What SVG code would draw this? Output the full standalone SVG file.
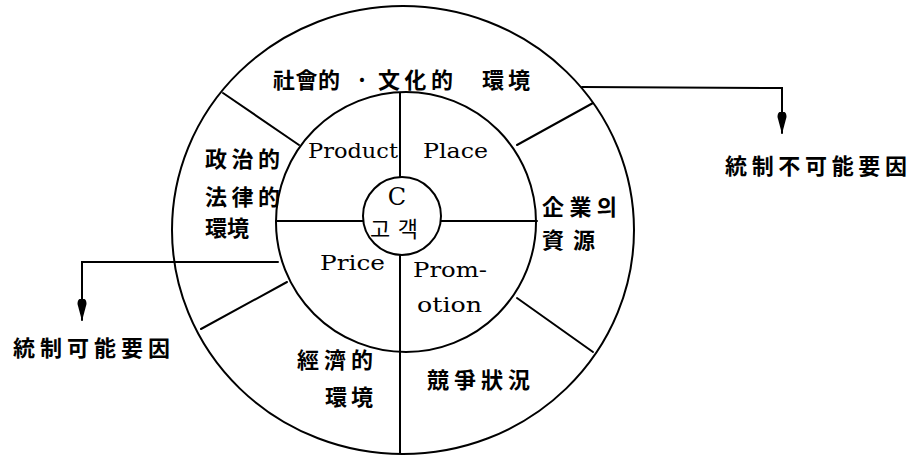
<svg xmlns="http://www.w3.org/2000/svg" width="919" height="457" viewBox="0 0 919 457">
<style>
.ln{fill:none;stroke:#000;stroke-width:2;stroke-linecap:round}
.cj{font-family:"Noto Sans CJK KR","Noto Sans CJK TC",sans-serif;font-weight:bold;font-size:22px;fill:#000}
.lt{font-family:"DejaVu Serif","Liberation Serif",serif;font-size:21px;fill:#000}
</style>
<defs>
<marker id="arr" viewBox="0 0 22 10" refX="21" refY="5" markerWidth="22" markerHeight="10" markerUnits="userSpaceOnUse" orient="auto">
<path d="M0,2.5 Q1,0.5 5,0.5 L22,5 L5,9.5 Q1,9.5 0,7.5 Z" fill="#000"/>
</marker>
</defs>
<rect width="919" height="457" fill="#fff"/>
<g id="wheel">
<ellipse class="ln" cx="403" cy="230" rx="231" ry="224"/>
<circle class="ln" cx="406" cy="222" r="130"/>
<circle class="ln" cx="402" cy="216" r="39"/>
<line class="ln" x1="400" y1="93" x2="400" y2="177"/>
<line class="ln" x1="400" y1="255" x2="400" y2="453"/>
<line class="ln" x1="276" y1="221" x2="363" y2="221"/>
<line class="ln" x1="441" y1="221" x2="537" y2="221"/>
<line class="ln" x1="223" y1="93" x2="299" y2="145"/>
<line class="ln" x1="593" y1="103" x2="517" y2="145"/>
<line class="ln" x1="201" y1="329" x2="287" y2="282"/>
<line class="ln" x1="593" y1="352" x2="517" y2="298"/>
</g>
<g id="social">
<text class="cj" x="273" y="88" textLength="67" lengthAdjust="spacing">社會的</text>
<text class="cj" x="362" y="88" text-anchor="middle">·</text>
<text class="cj" x="378" y="88" textLength="75" lengthAdjust="spacing">文化的</text>
<text class="cj" x="482" y="88" textLength="48" lengthAdjust="spacing">環境</text>
</g>
<g id="political">
<text class="cj" x="205" y="167" textLength="75" lengthAdjust="spacing">政治的</text>
<text class="cj" x="205" y="205" textLength="75" lengthAdjust="spacing">法律的</text>
<text class="cj" x="205" y="236" textLength="44" lengthAdjust="spacing">環境</text>
</g>
<g id="enterprise">
<text class="cj" x="542" y="215" textLength="75" lengthAdjust="spacing">企業의</text>
<text class="cj" x="542" y="248" textLength="53" lengthAdjust="spacing">資源</text>
</g>
<g id="economic">
<text class="cj" x="297" y="368" textLength="76" lengthAdjust="spacing">經濟的</text>
<text class="cj" x="325" y="405" textLength="48" lengthAdjust="spacing">環境</text>
</g>
<g id="competition">
<text class="cj" x="427" y="388" textLength="103" lengthAdjust="spacing">競爭狀況</text>
</g>
<g id="product"><text class="lt" x="308" y="158" textLength="90" lengthAdjust="spacingAndGlyphs">Product</text></g>
<g id="place"><text class="lt" x="423" y="158" textLength="65" lengthAdjust="spacingAndGlyphs">Place</text></g>
<g id="price"><text class="lt" x="320" y="270" textLength="65" lengthAdjust="spacingAndGlyphs">Price</text></g>
<g id="promotion">
<text class="lt" x="413" y="277" textLength="74" lengthAdjust="spacingAndGlyphs">Prom-</text>
<text class="lt" x="417" y="312" textLength="65" lengthAdjust="spacingAndGlyphs">otion</text>
</g>
<g id="customer">
<text class="lt" x="397" y="205" text-anchor="middle" style="font-size:24px">C</text>
<text class="cj" x="370" y="237" textLength="48" lengthAdjust="spacing" style="font-weight:normal">고객</text>
</g>
<g id="uncontrollable">
<text class="cj" x="725" y="174" textLength="182" lengthAdjust="spacing">統制不可能要因</text>
</g>
<g id="controllable">
<text class="cj" x="13" y="356" textLength="157" lengthAdjust="spacing">統制可能要因</text>
</g>
<g id="connectors">
<polyline class="ln" points="582,87 782,88 782,133" marker-end="url(#arr)" stroke-linejoin="miter"/>
<polyline class="ln" points="278,262 82,262 82,320" marker-end="url(#arr)" stroke-linejoin="miter"/>
</g>
</svg>
